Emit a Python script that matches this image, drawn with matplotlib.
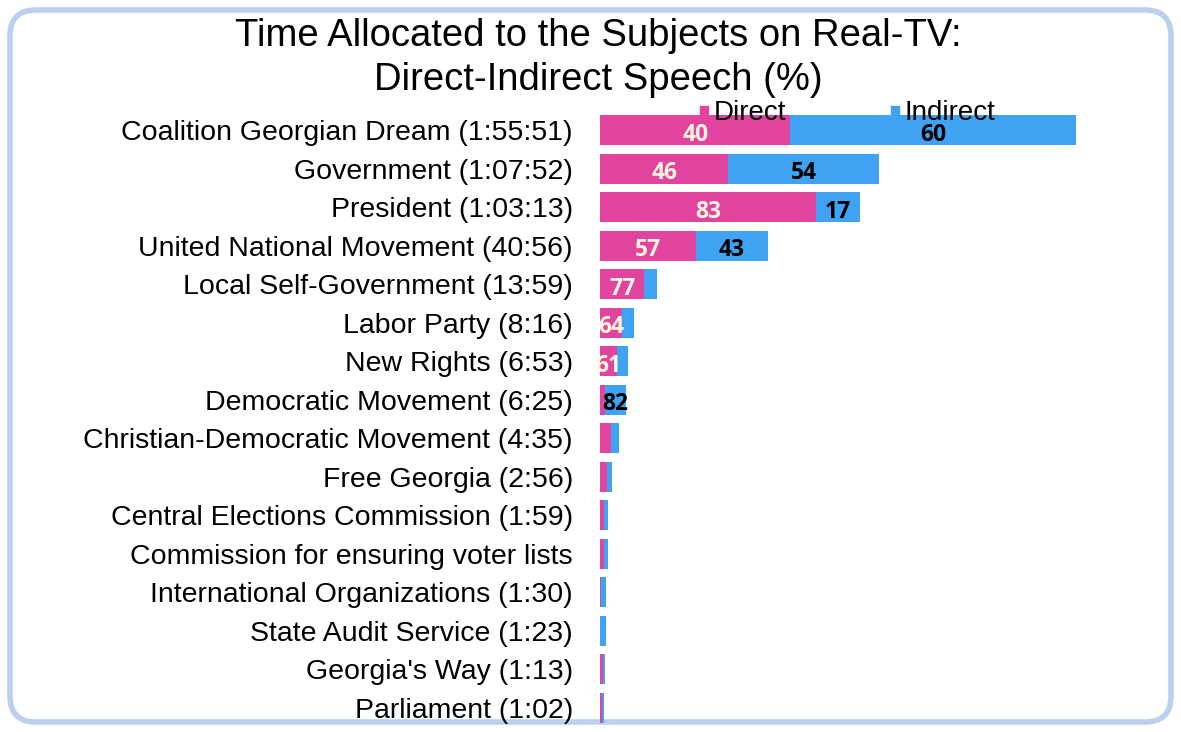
import matplotlib
matplotlib.use("Agg")
import matplotlib.pyplot as plt
from matplotlib.patches import FancyBboxPatch
from matplotlib.lines import Line2D
import numpy as np

plt.rcParams['font.family'] = ['Liberation Sans', 'DejaVu Sans']

categories = [
    "Coalition Georgian Dream (1:55:51)",
    "Government (1:07:52)",
    "President (1:03:13)",
    "United National Movement (40:56)",
    "Local Self-Government (13:59)",
    "Labor Party (8:16)",
    "New Rights (6:53)",
    "Democratic Movement (6:25)",
    "Christian-Democratic Movement (4:35)",
    "Free Georgia (2:56)",
    "Central Elections Commission (1:59)",
    "Commission for ensuring voter lists",
    "International Organizations (1:30)",
    "State Audit Service (1:23)",
    "Georgia's Way (1:13)",
    "Parliament (1:02)",
]
# total time in minutes
time_min = [115.85, 67.87, 63.22, 40.93, 13.98, 8.27, 6.88, 6.42,
            4.58, 2.93, 1.98, 1.95, 1.50, 1.38, 1.22, 1.03]
direct_pct = [40, 46, 83, 57, 77, 64, 61, 18, 58, 55, 55, 55, 20, 0, 50, 40]
indirect_pct = [100 - d for d in direct_pct]
show_direct = [True, True, True, True, True, True, True, False] + [False] * 8
show_indirect = [True, True, True, True, False, False, False, True] + [False] * 8

PINK = '#E0449E'
BLUE = '#3FA2F2'

W, H = 1181, 732
fig = plt.figure(figsize=(W / 100, H / 100), dpi=100)

# frame
frame = FancyBboxPatch((10 / W, 10 / H), (W - 20) / W, (H - 20) / H,
                       boxstyle="round,pad=0,rounding_size=0.022",
                       transform=fig.transFigure, facecolor='white',
                       edgecolor='#BCD0EE', linewidth=4, zorder=-10,
                       mutation_aspect=W / H)
fig.patches.append(frame)

n = len(categories)
row = 38.53
top_px = 130 - 0.5 * row
bot_px = top_px + n * row
left_px, right_px = 600, 1160
ax = fig.add_axes([left_px / W, 1 - bot_px / H, (right_px - left_px) / W, (bot_px - top_px) / H])
ax.set_facecolor('none')

t = np.array(time_min)
d = t * np.array(direct_pct) / 100
i = t * np.array(indirect_pct) / 100
y = np.arange(n)
ax.barh(y, d, height=0.78, color=PINK, label='Direct')
ax.barh(y, i, left=d, height=0.78, color=BLUE, label='Indirect')
ax.set_xlim(0, t.max() * (right_px - left_px) / 476)
ax.set_ylim(n - 0.5, -0.5)
ax.set_yticks(y)
ax.set_yticklabels(categories, fontsize=20.5)
ax.tick_params(axis='y', length=0, pad=19.5)
ax.set_xticks([])
for s in ax.spines.values():
    s.set_visible(False)

for k in range(n):
    if show_direct[k]:
        ax.text(d[k] / 2, y[k] + 0.12, str(direct_pct[k]), ha='center', va='center',
                color='#FFF5DC', fontsize=16.5, fontweight='bold', family=['Open Sans', 'DejaVu Sans'])
    if show_indirect[k]:
        ax.text(d[k] + i[k] / 2, y[k] + 0.12, str(indirect_pct[k]), ha='center', va='center',
                color='black', fontsize=16.5, fontweight='bold', family=['Open Sans', 'DejaVu Sans'])

handles = [Line2D([], [], marker='s', linestyle='none', color=PINK, markersize=6),
           Line2D([], [], marker='s', linestyle='none', color=BLUE, markersize=6)]
leg = fig.legend(handles, ['Direct', 'Indirect'], loc='center left', ncol=2,
                 bbox_to_anchor=(696 / W, 1 - 113 / H), frameon=False, fontsize=20,
                 handletextpad=0.05, columnspacing=3.6, handlelength=0.6, borderpad=0,
                 borderaxespad=0)

fig.text(598 / W, 1 - 58 / H,
         "Time Allocated to the Subjects on Real-TV:\nDirect-Indirect Speech (%)",
         ha='center', va='center', fontsize=27.5, linespacing=1.28)

fig.savefig('out.png', dpi=100)
